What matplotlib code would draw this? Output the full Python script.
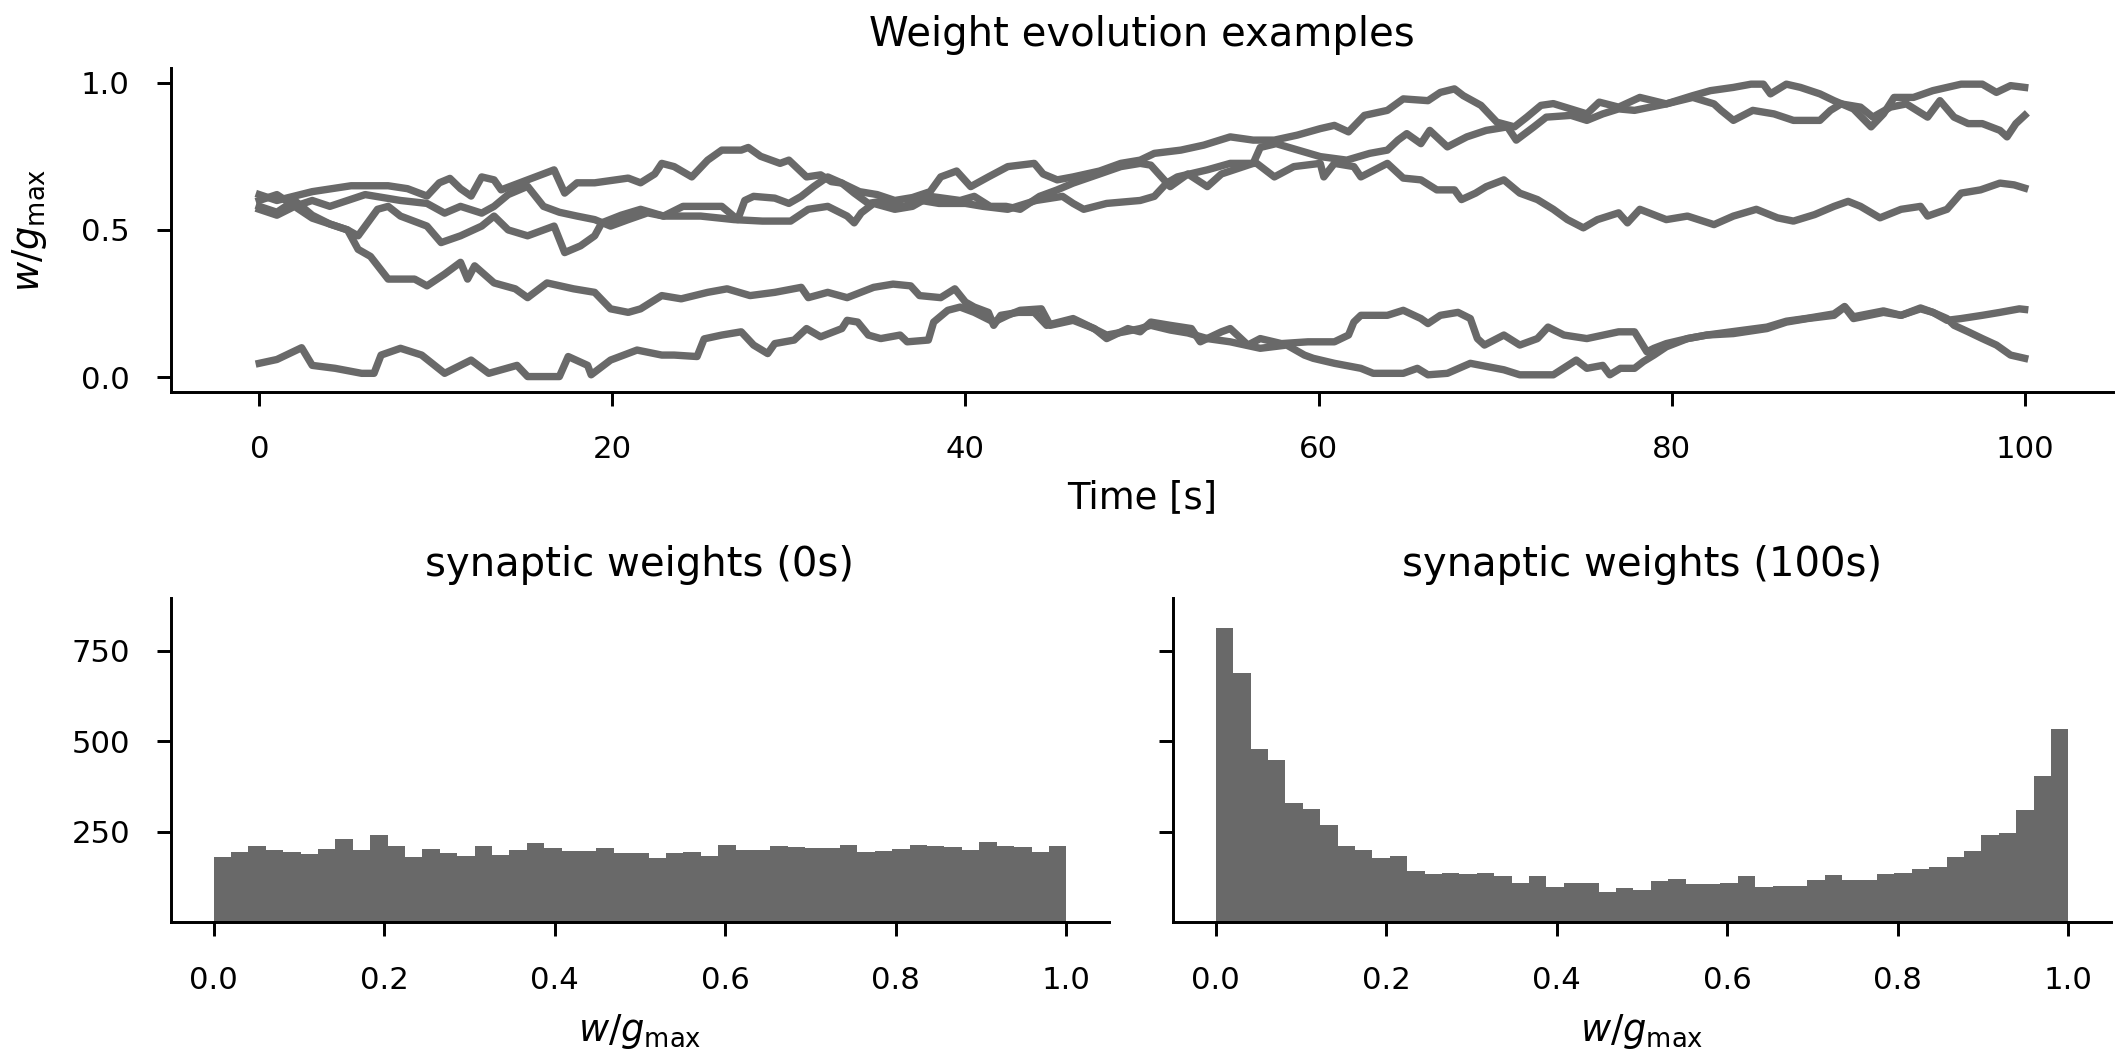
import numpy as np
import matplotlib
matplotlib.use("Agg")
import matplotlib.pyplot as plt

# example weight traces (time in s, w/gmax)
t_a = [0, 1, 2, 3, 4, 5, 6, 7, 8, 9.5, 10.5, 11.4, 12.6, 13.3, 14.1, 15.2, 16.1, 17, 18, 19, 19.9, 20.9, 22,
       22.9, 24, 26.2, 27.1, 27.5, 28, 29.2, 30, 30.7, 31.4, 32.2, 33, 34, 35, 36, 37, 38, 38.6, 39.5, 40.3,
       41.3, 42.4, 43.9, 44.4, 45.2, 46.1, 47.6, 48.8, 49.9, 50.7, 52.2, 53.5, 55, 56.3, 57.5, 58.8, 60.1,
       60.9, 61.7, 62.6, 63.9, 64.8, 66.2, 66.9, 67.7, 68.2, 69.2, 70.1, 71.1, 71.8, 72.6, 73.3, 75.2, 75.9,
       77, 78.2, 79.7, 81.2, 82.2, 83.5, 84.5, 85.2, 85.6, 86.5, 87.3, 88.4, 89.2, 90.3, 91.3, 92, 92.6, 93.7,
       94.8, 95.6, 96.4, 97.6, 98.4, 99.2, 100]
w_a = [0.60, 0.62, 0.58, 0.60, 0.58, 0.60, 0.62, 0.61, 0.60, 0.59, 0.557, 0.58, 0.557, 0.58, 0.62, 0.648,
       0.58, 0.56, 0.547, 0.535, 0.513, 0.535, 0.558, 0.547, 0.58, 0.58, 0.535, 0.60, 0.614, 0.608, 0.59,
       0.614, 0.647, 0.68, 0.659, 0.63, 0.62, 0.60, 0.61, 0.63, 0.68, 0.70, 0.647, 0.68, 0.715, 0.726,
       0.69, 0.67, 0.68, 0.70, 0.726, 0.737, 0.76, 0.771, 0.788, 0.816, 0.805, 0.805, 0.822, 0.844, 0.855,
       0.833, 0.889, 0.906, 0.945, 0.939, 0.967, 0.979, 0.956, 0.923, 0.866, 0.85, 0.883, 0.923, 0.929,
       0.894, 0.934, 0.917, 0.95, 0.928, 0.956, 0.973, 0.984, 0.995, 0.995, 0.962, 0.995, 0.984, 0.962,
       0.939, 0.911, 0.85, 0.894, 0.95, 0.95, 0.973, 0.984, 0.995, 0.995, 0.967, 0.99, 0.984]

t_b = [0, 1, 2, 3, 4, 5, 5.6, 6.7, 7.3, 8, 9.5, 10.3, 11.4, 12.6, 13.3, 14.1, 15.2, 16.7, 17.3, 18.2, 19,
       19.4, 20.5, 21.6, 22.9, 25, 26.9, 28.5, 30.1, 31.1, 32.2, 33.3, 33.7, 34.1, 34.8, 36, 37, 38, 39.7,
       40.5, 41.4, 42.3, 43.1, 44.2, 45.2, 46.1, 47.6, 48.8, 49.9, 50.5, 51.6, 52.6, 53.7, 54.5, 56.3, 56.7,
       57.6, 58.9, 60.1, 61.6, 62.9, 63.9, 64.5, 65, 65.8, 66.3, 67.3, 68.4, 69.5, 70.7, 71.2, 72.2, 72.9,
       74.3, 75.2, 76.1, 77, 77.9, 79.7, 81.2, 82.4, 82.8, 83.5, 84.6, 85.8, 86.9, 88.4, 89, 89.6, 90.7,
       91.4, 92.4, 93.3, 94.5, 95.2, 96, 96.8, 97.6, 98.6, 99, 99.5, 100]
w_b = [0.58, 0.56, 0.60, 0.55, 0.52, 0.50, 0.48, 0.57, 0.58, 0.547, 0.513, 0.457, 0.48, 0.513, 0.547, 0.50,
       0.48, 0.513, 0.423, 0.446, 0.48, 0.524, 0.55, 0.57, 0.547, 0.547, 0.535, 0.53, 0.53, 0.57, 0.58,
       0.547, 0.524, 0.558, 0.59, 0.57, 0.58, 0.614, 0.60, 0.614, 0.58, 0.58, 0.57, 0.614, 0.636, 0.659,
       0.69, 0.715, 0.726, 0.72, 0.647, 0.69, 0.647, 0.69, 0.726, 0.78, 0.793, 0.77, 0.749, 0.737, 0.76,
       0.771, 0.805, 0.827, 0.793, 0.838, 0.782, 0.816, 0.838, 0.85, 0.805, 0.85, 0.883, 0.889, 0.872,
       0.894, 0.911, 0.906, 0.928, 0.95, 0.928, 0.906, 0.872, 0.906, 0.894, 0.872, 0.872, 0.906, 0.928,
       0.917, 0.883, 0.917, 0.928, 0.883, 0.939, 0.883, 0.861, 0.861, 0.838, 0.816, 0.861, 0.889]

t_c = [0, 1, 3, 5.2, 7.3, 8.4, 9.5, 10.2, 10.8, 11.4, 12, 12.6, 13.3, 13.7, 15.2, 16.7, 17.3, 18, 19, 20.9,
       21.6, 22.4, 22.8, 23.5, 24.5, 25.4, 26.2, 27.3, 27.7, 28.4, 29.5, 30, 31, 31.8, 32.4, 33, 33.7, 34.5,
       35.5, 36.5, 37.5, 38.5, 40, 41, 42.4, 44, 45.5, 46.1, 46.7, 48, 49.9, 50.7, 51.4, 52, 53.7, 55, 56.5,
       57.5, 58.6, 60.1, 60.3, 60.9, 62, 62.4, 63.9, 64.8, 65.8, 66.7, 67.7, 68.1, 68.9, 69.5, 70.5, 71.4,
       72.4, 73.3, 74.1, 75, 75.8, 77, 77.5, 78.2, 79.7, 80.9, 82.4, 83.5, 84.8, 86, 86.9, 88.1, 89.2, 90,
       90.7, 91.8, 93, 94.1, 94.5, 95.6, 96.4, 97.5, 98.6, 99.4, 100]
w_c = [0.62, 0.60, 0.63, 0.65, 0.65, 0.64, 0.615, 0.66, 0.675, 0.64, 0.615, 0.68, 0.67, 0.636, 0.67, 0.704,
       0.625, 0.66, 0.66, 0.676, 0.66, 0.69, 0.726, 0.715, 0.68, 0.737, 0.771, 0.771, 0.78, 0.75, 0.726,
       0.737, 0.68, 0.687, 0.664, 0.659, 0.625, 0.59, 0.60, 0.58, 0.60, 0.59, 0.59, 0.58, 0.57, 0.60, 0.614,
       0.59, 0.57, 0.59, 0.60, 0.614, 0.659, 0.68, 0.704, 0.726, 0.726, 0.68, 0.715, 0.726, 0.68, 0.726,
       0.715, 0.68, 0.726, 0.676, 0.67, 0.636, 0.636, 0.603, 0.625, 0.647, 0.67, 0.625, 0.603, 0.57, 0.535,
       0.507, 0.535, 0.558, 0.524, 0.57, 0.535, 0.547, 0.518, 0.547, 0.57, 0.541, 0.53, 0.552, 0.58, 0.597,
       0.58, 0.541, 0.57, 0.58, 0.547, 0.57, 0.625, 0.636, 0.659, 0.653, 0.642]

t_d = [0, 1, 2, 3, 4, 5, 5.6, 6.3, 7.3, 8.8, 9.5, 10.5, 11.4, 11.8, 12.2, 13.3, 14.5, 15.2, 16.3, 17.8, 19,
       19.9, 20.9, 21.6, 22.8, 23.9, 25.4, 26.5, 27.8, 29.2, 30.7, 31.1, 32.2, 33.3, 34.8, 35.9, 36.9, 37.4,
       38.6, 39.4, 40, 40.5, 41.3, 41.6, 42, 43, 43.9, 44.6, 46.1, 46.9, 48, 49, 49.9, 50.5, 51.6, 52.6,
       53.7, 55, 56.7, 58.2, 59.2, 59.7, 60.9, 62.4, 63.1, 64.8, 65.6, 66.2, 67.3, 68.6, 69.2, 70.5, 71.4,
       73.3, 74.6, 75.2, 76.1, 76.5, 77.1, 77.9, 78.4, 79, 79.7, 80.9, 82, 83.5, 85.4, 86.5, 87.7, 89.2,
       89.8, 90.3, 92, 93, 94.1, 94.8, 95.6, 96, 96.8, 97.6, 98.4, 99.2, 100]
w_d = [0.57, 0.55, 0.58, 0.54, 0.52, 0.50, 0.434, 0.41, 0.333, 0.333, 0.31, 0.35, 0.39, 0.333, 0.378, 0.32,
       0.30, 0.27, 0.32, 0.30, 0.288, 0.232, 0.22, 0.232, 0.277, 0.266, 0.288, 0.30, 0.277, 0.288, 0.305,
       0.27, 0.288, 0.27, 0.305, 0.316, 0.31, 0.277, 0.27, 0.30, 0.255, 0.238, 0.22, 0.176, 0.21, 0.22,
       0.22, 0.176, 0.199, 0.176, 0.143, 0.154, 0.165, 0.176, 0.16, 0.15, 0.131, 0.12, 0.098, 0.109, 0.075,
       0.064, 0.047, 0.03, 0.013, 0.013, 0.03, 0.008, 0.013, 0.047, 0.04, 0.025, 0.008, 0.008, 0.058, 0.03,
       0.04, 0.008, 0.03, 0.03, 0.053, 0.075, 0.103, 0.131, 0.143, 0.148, 0.165, 0.187, 0.199, 0.21, 0.238,
       0.199, 0.22, 0.21, 0.232, 0.22, 0.199, 0.176, 0.154, 0.131, 0.109, 0.075, 0.064]

t_e = [0, 1, 2.4, 3, 4.3, 5.8, 6.5, 6.9, 8, 9.2, 10.5, 12, 13, 14.6, 15.2, 17, 17.5, 18.6, 18.8, 19.9, 21.4,
       22.8, 23.5, 24.8, 25.2, 26.2, 27.3, 28, 28.8, 29.2, 30.3, 31, 31.8, 33, 33.3, 33.9, 34.5, 35.2, 36.3,
       36.7, 37.9, 38.2, 39, 39.7, 40.5, 41.6, 42.4, 43.1, 44.3, 44.8, 46.1, 47.3, 48, 49.2, 49.9, 50.5,
       51.6, 52.8, 53.3, 54.5, 55, 56, 56.7, 57.9, 59.4, 60.9, 61.7, 62, 62.4, 63.9, 64.8, 65.8, 66.2, 66.9,
       67.9, 68.6, 69, 69.4, 70.5, 71.4, 72.4, 73, 73.9, 75.2, 77, 77.9, 78.6, 79, 79.7, 80.9, 82, 83.5,
       85.4, 86.5, 87.7, 89.2, 89.8, 90.3, 92, 93, 94.1, 94.8, 95.6, 96.4, 97.6, 98.6, 99.7, 100]
w_e = [0.047, 0.06, 0.10, 0.04, 0.03, 0.013, 0.013, 0.075, 0.098, 0.075, 0.013, 0.058, 0.013, 0.04, 0.002,
       0.002, 0.07, 0.04, 0.008, 0.058, 0.092, 0.075, 0.075, 0.07, 0.13, 0.143, 0.154, 0.109, 0.08, 0.114,
       0.126, 0.165, 0.137, 0.165, 0.193, 0.187, 0.143, 0.131, 0.143, 0.12, 0.126, 0.187, 0.227, 0.238,
       0.22, 0.187, 0.21, 0.227, 0.232, 0.176, 0.193, 0.165, 0.131, 0.165, 0.154, 0.187, 0.176, 0.165,
       0.12, 0.154, 0.165, 0.109, 0.131, 0.114, 0.12, 0.12, 0.143, 0.187, 0.21, 0.21, 0.227, 0.199, 0.182,
       0.21, 0.22, 0.199, 0.131, 0.109, 0.143, 0.109, 0.131, 0.17, 0.143, 0.131, 0.154, 0.154, 0.086,
       0.098, 0.114, 0.131, 0.143, 0.155, 0.17, 0.19, 0.20, 0.215, 0.24, 0.205, 0.225, 0.21, 0.235, 0.22,
       0.193, 0.199, 0.21, 0.22, 0.232, 0.23]

traces = [(t_a, w_a), (t_b, w_b), (t_c, w_c), (t_d, w_d), (t_e, w_e)]

# histogram counts, 49 bins on [0, 1]
counts_0s = [181, 195, 211, 200, 195, 189, 203, 231, 200, 242, 211, 181, 203, 192, 184, 211, 186, 200, 220,
             206, 198, 198, 206, 192, 192, 178, 192, 195, 184, 214, 200, 200, 211, 209, 206, 206, 214, 195,
             198, 203, 214, 211, 209, 200, 222, 211, 209, 195, 211]
counts_100s = [813, 688, 478, 449, 330, 314, 269, 211, 200, 178, 184, 142, 134, 137, 134, 137, 128, 109, 128,
               98, 109, 109, 84, 95, 90, 115, 120, 106, 106, 109, 128, 98, 101, 101, 117, 131, 117, 117, 134,
               137, 148, 153, 181, 198, 242, 247, 311, 405, 535]
hist_yticks = [250, 500, 750]

col = "dimgray"
plt.rcParams["font.family"] = "DejaVu Sans"
plt.rcParams["axes.linewidth"] = 1.2
plt.rcParams["xtick.major.width"] = 1.2
plt.rcParams["ytick.major.width"] = 1.2
plt.rcParams["xtick.major.size"] = 5.7
plt.rcParams["ytick.major.size"] = 5.7
plt.rcParams["xtick.major.pad"] = 12
plt.rcParams["ytick.major.pad"] = 11
fs_title, fs_label, fs_tick = 16.3, 15, 12.5
wlabel = r"$w/g_{\rm max}$"

fig = plt.figure(figsize=(12, 6), dpi=177)
ax_top = fig.add_axes([0.0805, 0.631, 0.9143, 0.305])
ax_h0 = fig.add_axes([0.0805, 0.1314, 0.4416, 0.3055])
ax_h1 = fig.add_axes([0.5523, 0.1314, 0.4416, 0.3055], sharey=ax_h0)

for t, w in traces:
    ax_top.plot(t, w, color=col, lw=3.0)
ax_top.set_xlim(-5, 105)
ax_top.set_ylim(-0.05, 1.05)
ax_top.set_yticks([0, 0.5, 1.0])
ax_top.set_xlabel("Time [s]", fontsize=fs_label, labelpad=6)
ax_top.set_ylabel(wlabel, fontsize=fs_label, labelpad=13)
ax_top.set_title("Weight evolution examples", fontsize=fs_title, pad=9)

edges = np.linspace(0, 1, len(counts_0s) + 1)
centers = (edges[:-1] + edges[1:]) / 2
ax_h0.hist(centers, bins=edges, weights=counts_0s, color=col)
ax_h1.hist(centers, bins=edges, weights=counts_100s, color=col)
ax_h0.set_title("synaptic weights (0s)", fontsize=fs_title, pad=9)
ax_h1.set_title("synaptic weights (100s)", fontsize=fs_title, pad=9)
ax_h0.set_ylim(0, 895)
ax_h0.set_yticks(hist_yticks)
ax_h1.tick_params(labelleft=False)
for ax in (ax_h0, ax_h1):
    ax.set_xlabel(wlabel, fontsize=fs_label, labelpad=7)
    ax.set_xticks([0, 0.2, 0.4, 0.6, 0.8, 1.0])

for ax in (ax_top, ax_h0, ax_h1):
    ax.spines["top"].set_visible(False)
    ax.spines["right"].set_visible(False)
    ax.tick_params(labelsize=fs_tick)

fig.savefig("out.png", dpi=177)
